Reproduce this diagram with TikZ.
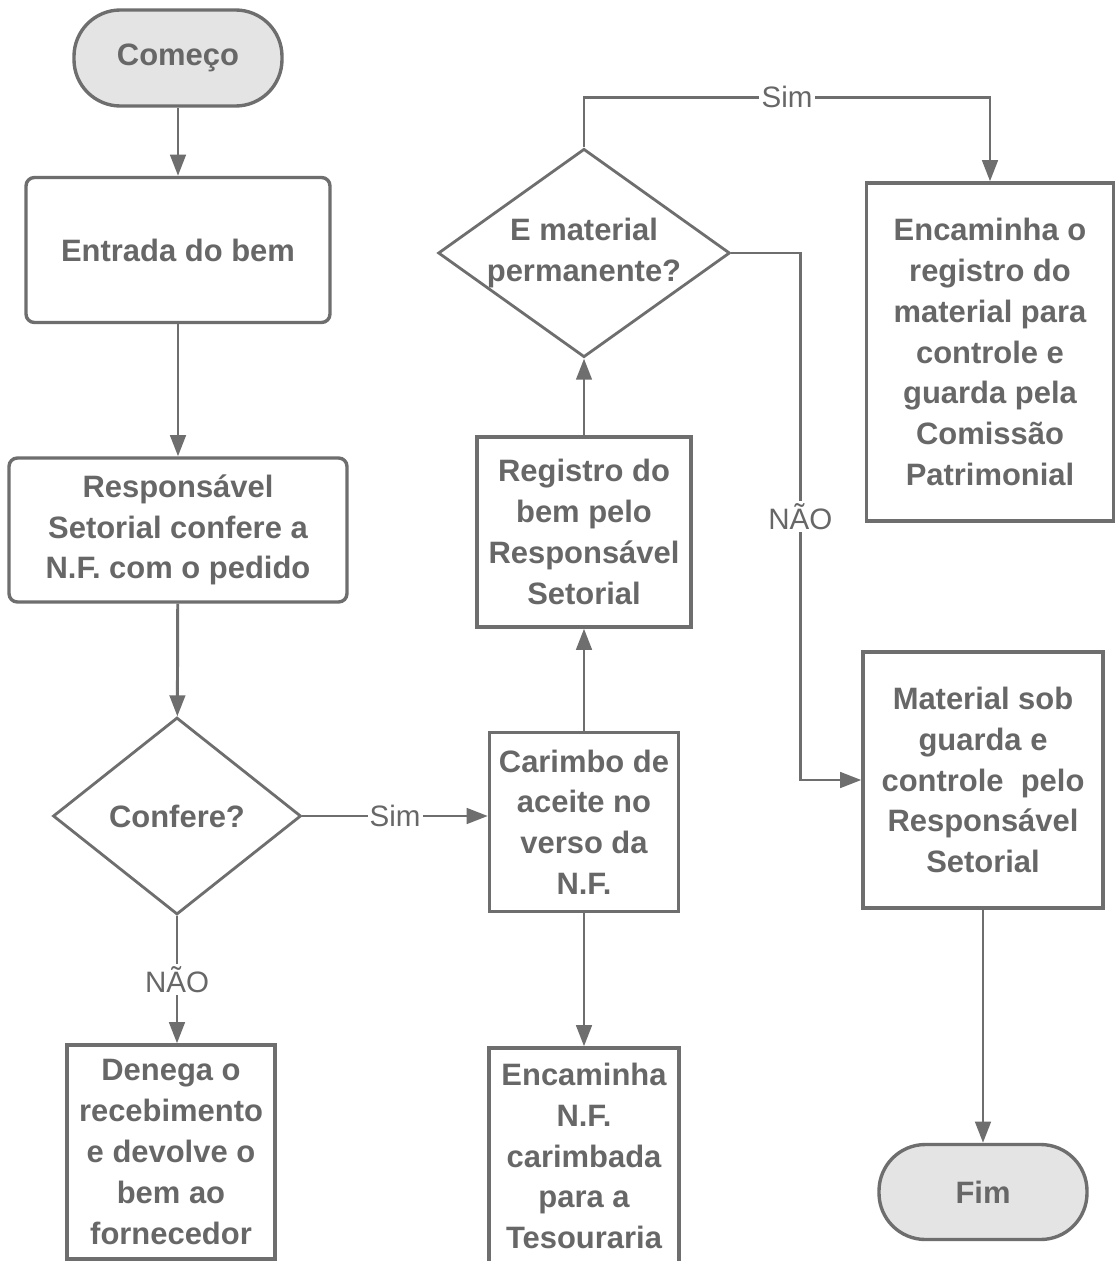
\documentclass[tikz,border=0pt]{standalone}
\usepackage{fontspec}
\setmainfont{Liberation Sans}
\usetikzlibrary{shapes.geometric,arrows.meta}

\definecolor{linegray}{HTML}{6E6E6E}
\definecolor{txtgray}{HTML}{676767}
\definecolor{termfill}{HTML}{E4E4E4}
\newcommand{\pxu}{0.025cm}

\begin{document}
\begin{tikzpicture}[x=0.025cm, y=-0.025cm,
  box/.style={draw=linegray, line width=2.4pt, text=txtgray, align=center,
    inner sep=0pt, font=\bfseries\fontsize{22}{29}\selectfont},
  term/.style={box, fill=termfill, rounded corners=33pt},
  roundbox/.style={box, rounded corners=6pt},
  decision/.style={box, diamond, line width=2pt},
  flow/.style={draw=linegray, line width=2.1pt, -{Triangle[length=15pt,width=11pt]}},
  lbl/.style={fill=white, text=txtgray, inner sep=1.5pt, font=\fontsize{21}{24}\selectfont}
]

% page
\path[fill=white, use as bounding box] (0,0) rectangle (1115,1261);

% left column
\node[term, minimum width=208*\pxu, minimum height=96*\pxu] (start) at (178,58) {Começo};
\node[roundbox, minimum width=304*\pxu, minimum height=145*\pxu] (entrada) at (178,250) {Entrada do bem};
\node[roundbox, minimum width=338*\pxu, minimum height=144*\pxu] (confnf) at (178,530)
  {Responsável\\Setorial confere a\\N.F. com o pedido};
\node[decision, minimum width=248*\pxu, minimum height=197*\pxu] (confere) at (177,816) {Confere?};
\node[box, minimum width=208*\pxu, minimum height=214*\pxu] (denega) at (171,1152)
  {Denega o\\recebimento\\e devolve o\\bem ao\\fornecedor};

% middle column
\node[box, minimum width=189*\pxu, minimum height=179*\pxu] (carimbo) at (584,822)
  {Carimbo de\\aceite no\\verso da\\N.F.};
\node[box, minimum width=190*\pxu, minimum height=216*\pxu] (tesouraria) at (584,1156)
  {Encaminha\\N.F.\\carimbada\\para a\\Tesouraria};
\node[box, minimum width=214*\pxu, minimum height=190*\pxu] (registro) at (584,532)
  {Registro do\\bem pelo\\Responsável\\Setorial};
\node[decision, aspect=1.4, minimum width=283*\pxu, minimum height=200*\pxu] (permanente) at (584,253)
  {E material\\permanente?};

% right column
\node[box, minimum width=247*\pxu, minimum height=338*\pxu] (comissao) at (990,352)
  {Encaminha o\\registro do\\material para\\controle e\\guarda pela\\Comissão\\Patrimonial};
\node[box, minimum width=240*\pxu, minimum height=256*\pxu] (setorial) at (983,780)
  {Material sob\\guarda e\\controle\ \ pelo\\Responsável\\Setorial};
\node[term, minimum width=208*\pxu, minimum height=95*\pxu] (fim) at (983,1192) {Fim};

% connectors
\draw[flow] (start) -- (entrada);
\draw[flow] (entrada) -- (confnf);
\draw[flow] (confnf) -- (confere);
\draw[flow] (confere.south) -- node[lbl] {NÃO} (confere.south |- denega.north);
\draw[flow] (confere.east) -- node[lbl] {Sim} (confere.east -| carimbo.west);
\draw[flow] (carimbo) -- (tesouraria);
\draw[flow] (carimbo) -- (registro);
\draw[flow] (registro) -- (permanente);
\draw[flow] (permanente.north) -- ++(0,-50) -| node[lbl, pos=0.25] {Sim} (comissao.north);
\draw[flow] (permanente.east) -- ++(69,0) |- node[lbl, pos=0.25] {NÃO} (setorial.west);
\draw[flow] (setorial) -- (fim);

\end{tikzpicture}
\end{document}
